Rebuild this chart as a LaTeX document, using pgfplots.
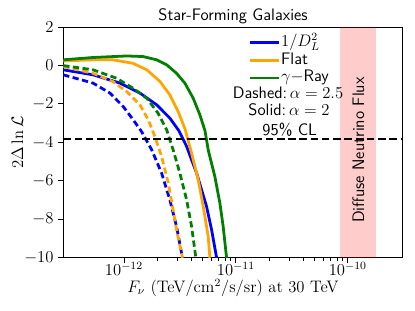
\documentclass[border=0pt]{standalone}
\usepackage{pgfplots}
\pgfplotsset{compat=1.18}
\definecolor{mplorange}{RGB}{255,165,0}
\definecolor{mplgreen}{RGB}{0,128,0}
\newcommand{\fs}{\fontsize{12}{14}\selectfont}
\begin{document}
\begin{tikzpicture}
\path[use as bounding box] (-45.6pt,-38.2pt) rectangle (253.4pt,185.7pt);
\begin{axis}[
  name=ax,
  at={(0,0)}, anchor=south west,
  scale only axis, width=244.6pt, height=166.3pt,
  xmode=log, xmin=2.87e-13, xmax=3.1e-10, ymin=-10, ymax=2,
  xtick={1e-12,1e-11,1e-10},
  ytick={-10,-8,-6,-4,-2,0,2},
  tick align=outside, tick pos=left,
  major tick length=3.5pt, minor tick length=2pt,
  tick style={black, line width=0.6pt},
  axis line style={line width=0.6pt},
  tick label style={font=\fs},
  xticklabel style={yshift=3.5pt},
  xlabel={$F_\nu$ (TeV/cm$^2$/s/sr) at 30 TeV},
  ylabel={$2\Delta\ln\mathcal{L}$},
  xlabel style={font=\fs, at={(axis description cs:0.5,-0.13)}, anchor=center},
  ylabel style={font=\fs, at={(axis description cs:-0.135,0.5)}, anchor=center, rotate=0},
  legend style={at={(axis description cs:0.545,0.968)}, anchor=north west,
    draw=none, fill=none, font=\sffamily\fs, row sep=1.3pt, inner sep=0pt,
    nodes={inner sep=0.5pt, text height=8pt, text depth=2.5pt}},
  legend cell align=left,
  legend image code/.code={\draw[#1] (0pt,0pt) -- (21pt,0pt);},
]
\fill[red, opacity=0.2] (axis cs:8.5e-11,-10) rectangle (axis cs:1.8e-10,2);
\node[rotate=90, font=\sffamily\fs] at (axis cs:1.24e-10,-4.4) {Diffuse Neutrino Flux};

\addplot[blue, line width=2pt] coordinates {
(2.87e-13,-0.23) (5.29e-13,-0.49) (9.21e-13,-0.92) (1.39e-12,-1.44) (1.96e-12,-2.05)
(2.57e-12,-2.74) (3.1e-12,-3.4) (3.63e-12,-4.21) (4.02e-12,-4.91) (4.46e-12,-5.6)
(4.94e-12,-6.47) (5.47e-12,-7.33) (6.07e-12,-8.55) (6.73e-12,-10)};
\addlegendentry{$1/D_L^2$}
\addplot[mplorange, line width=2pt] coordinates {
(2.87e-13,0.23) (5.29e-13,0.29) (7.96e-13,0.29) (1.202e-12,0.11) (1.60e-12,-0.23)
(2.10e-12,-0.84) (2.57e-12,-1.53) (3.05e-12,-2.4) (3.51e-12,-3.3) (4.02e-12,-4.56)
(4.61e-12,-5.95) (5.11e-12,-7.33) (5.66e-12,-8.89) (5.86e-12,-10)};
\addlegendentry{Flat}
\addplot[mplgreen, line width=2pt] coordinates {
(2.87e-13,0.29) (5.29e-13,0.41) (1.057e-12,0.49) (1.48e-12,0.46) (1.96e-12,0.29)
(2.41e-12,0.03) (2.95e-12,-0.41) (3.51e-12,-0.93) (4.16e-12,-1.71) (4.77e-12,-2.57)
(5.3e-12,-3.4) (5.66e-12,-4.39) (6.49e-12,-5.78) (7.20e-12,-7.16) (7.70e-12,-8.37)
(8.26e-12,-10)};
\addlegendentry{$\gamma-$Ray}

\addplot[blue, line width=2pt, dash pattern=on 4.5pt off 2.5pt, forget plot] coordinates {
(2.87e-13,-0.49) (5.29e-13,-0.92) (7.50e-13,-1.44) (9.86e-13,-2.14) (1.21e-12,-2.83)
(1.44e-12,-3.45) (1.77e-12,-4.39) (2.17e-12,-5.6) (2.57e-12,-6.99) (2.95e-12,-8.37)
(3.27e-12,-9.75) (3.35e-12,-10)};
\addplot[mplorange, line width=2pt, dash pattern=on 4.5pt off 2.5pt, forget plot] coordinates {
(2.87e-13,-0.06) (5.29e-13,-0.41) (7.96e-13,-0.84) (1.057e-12,-1.36) (1.39e-12,-2.05)
(1.65e-12,-2.83) (1.89e-12,-3.70) (2.17e-12,-4.74) (2.49e-12,-6.12) (2.75e-12,-7.51)
(2.99e-12,-8.72) (3.34e-12,-10)};
\addplot[mplgreen, line width=2pt, dash pattern=on 4.5pt off 2.5pt, forget plot] coordinates {
(2.87e-13,-0.01) (5.29e-13,-0.23) (8.61e-13,-0.67) (1.21e-12,-1.19) (1.60e-12,-1.71)
(2.02e-12,-2.49) (2.41e-12,-3.35) (2.75e-12,-4.39) (3.16e-12,-5.6) (3.63e-12,-6.99)
(4.02e-12,-8.37) (4.39e-12,-10)};

\addplot[black, line width=1.2pt, dash pattern=on 5.5pt off 2.6pt, forget plot] coordinates {(2.87e-13,-3.84) (3.1e-10,-3.84)};
\node[font=\sffamily\fs, anchor=south, inner sep=1.5pt] at (axis cs:3.03e-11,-3.84) {95\% CL};

\node[font=\sffamily\fs] at (axis description cs:0.662,0.714) {Dashed:\,$\alpha=2.5$};
\node[font=\sffamily\fs] at (axis description cs:0.665,0.642) {Solid:\,$\alpha=2$};
\end{axis}
\node[font=\sffamily\fs, anchor=base] at ([yshift=4.5pt]ax.north) {Star-Forming Galaxies};
\end{tikzpicture}
\end{document}
